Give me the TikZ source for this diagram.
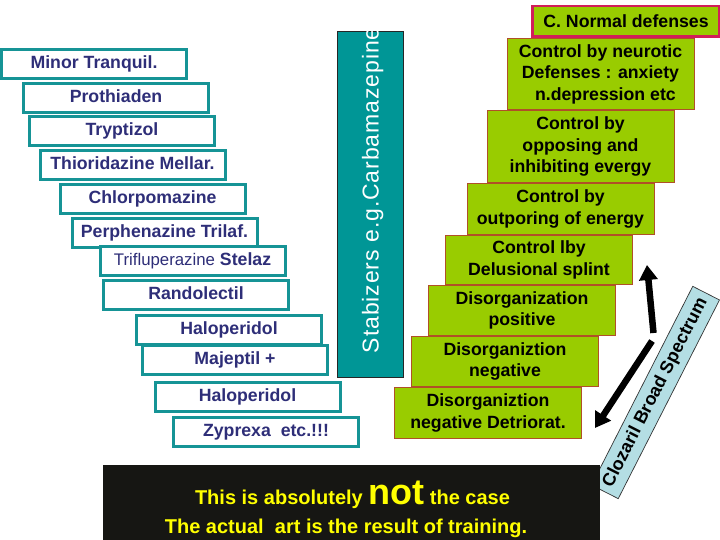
\documentclass[tikz,border=0pt]{standalone}
\usepackage{fontspec}
\setmainfont{Liberation Sans}
\usetikzlibrary{positioning}
\usetikzlibrary{arrows.meta}
\usetikzlibrary{calc}

\definecolor{drugteal}{RGB}{22,148,150}
\definecolor{drugink}{RGB}{46,46,120}
\definecolor{stabteal}{RGB}{0,150,150}
\definecolor{defgreen}{RGB}{153,204,0}
\definecolor{defedge}{RGB}{176,80,40}
\definecolor{normaledge}{RGB}{210,30,90}
\definecolor{notebg}{RGB}{22,22,19}
\definecolor{noteink}{RGB}{255,255,0}
\definecolor{clozblue}{RGB}{180,222,228}

\begin{document}
\begin{tikzpicture}[
    x=1pt, y=-1pt,
    drug/.style={rectangle, draw=drugteal, line width=3pt, fill=white, minimum width=185pt, minimum height=29pt, inner sep=0pt, text height=13pt, text depth=3.7pt, text=drugink, font=\fontsize{17.7}{21}\selectfont\bfseries},
    defense/.style={rectangle, draw=defedge, line width=1pt, fill=defgreen, minimum width=187pt, inner sep=0pt, align=center, font=\fontsize{17.7}{21.5}\selectfont\bfseries},
    stabbar/.style={rectangle, draw=black!85, line width=0.8pt, fill=stabteal, minimum width=66pt, minimum height=346pt},
    clozlabel/.style={rectangle, draw=black!80, line width=0.7pt, fill=clozblue, minimum width=223pt, minimum height=30pt, inner sep=0pt, font=\fontsize{18}{20}\selectfont\bfseries},
    notebox/.style={rectangle, fill=notebg, minimum width=497pt, minimum height=76pt, inner sep=0pt},
    notetext/.style={text=noteink, inner sep=0pt, font=\fontsize{20}{24}\selectfont\bfseries},
    spreadarrow/.style={line width=6.5pt, -{Triangle[length=15pt,width=18pt]}},
]
    \useasboundingbox (0,0) rectangle (720,540);
    \fill[white] (0,0) rectangle (720,540);

    % drug staircase
    \node[drug] (minor) at (94,64) {Minor Tranquil.};
    \node[drug] (proth) [below=2pt of minor, xshift=22pt] {Prothiaden};
    \node[drug] (trypt) [below=1pt of proth, xshift=6pt] {Tryptizol};
    \node[drug] (thior) [below=2pt of trypt, xshift=10.5pt] {Thioridazine Mellar.};
    \node[drug] (chlor) [below=2pt of thior, xshift=20pt] {Chlorpomazine};
    \node[drug] (perph) [below=2pt of chlor, xshift=12pt] {Perphenazine Trilaf.};
    \node[drug] (trifl) [below=-4pt of perph, xshift=28pt] {{\mdseries\fontsize{16.8}{20}\selectfont Trifluperazine} Stelaz};
    \node[drug] (rando) [below=2pt of trifl, xshift=3.5pt] {Randolectil};
    \node[drug] (haloa) [below=3pt of rando, xshift=33pt] {Haloperidol};
    \node[drug] (majep) [below=-2pt of haloa, xshift=6pt] {Majeptil +};
    \node[drug] (halob) [below=5pt of majep, xshift=12.5pt] {Haloperidol};
    \node[drug] (zypre) [below=3pt of halob, xshift=18.5pt] {Zyprexa\ \ etc.!!!};

    % stabilizer bar
    \node[stabbar] (stab) at (370,204) {};
    \begin{scope}
        \clip (stab.south west) rectangle (stab.north east);
        \node[rotate=90, anchor=base west, inner sep=0pt, text=white, font=\fontsize{23}{25}\selectfont\addfontfeature{LetterSpace=4}] (stabtext) at ($(stab.south)+(8.5,-24)$) {Stabizers e.g.Carbamazepine};
    \end{scope}

    % defense staircase
    \node[defense, draw=normaledge, line width=2.5pt, minimum height=30.5pt] (normal) at (626,21.5) {C. Normal defenses};
    \node[defense, minimum height=71pt] (neurotic) [below=0pt of normal, xshift=-25.5pt] {Control by neurotic\\Defenses : anxiety\\\ \ n.depression etc};
    \node[defense, minimum height=72pt] (opposing) [below=0pt of neurotic, xshift=-20pt] {Control by\\opposing and\\inhibiting evergy};
    \node[defense, minimum height=51pt] (outpour) [below=0pt of opposing, xshift=-20pt] {Control by\\outporing of energy};
    \node[defense, minimum height=49pt] (delus) [below=0pt of outpour, xshift=-21.5pt] {Control lby\\Delusional splint};
    \node[defense, minimum height=50pt] (dispos) [below=0pt of delus, xshift=-17pt] {Disorganization\\positive};
    \node[defense, minimum height=50pt] (disneg) [below=0pt of dispos, xshift=-17pt] {Disorganiztion\\negative};
    \node[defense, minimum height=51pt] (disdet) [below=0pt of disneg, xshift=-17pt] {Disorganiztion\\negative Detriorat.};

    % spectrum arrows
    \coordinate (uptail) at (653.5,333);
    \coordinate (uptip) at (647,265);
    \coordinate (downtail) at (652,341);
    \coordinate (downtip) at (595,428);
    \draw[spreadarrow] (uptail) -- (uptip);
    \draw[spreadarrow] (downtail) -- (downtip);

    \node[clozlabel, rotate=63] (cloz) at (655.5,392.5) {Clozaril Broad Spectrum};

    % bottom note
    \node[notebox] (notebar) at (351.5,503) {};
    \node[notetext, anchor=base] (notea) at (352.5,504) {This is absolutely {\fontsize{36}{36}\selectfont not} the case};
    \node[notetext, anchor=base] (noteb) at (346,533) {The actual\ \ art is the result of training.};
\end{tikzpicture}
\end{document}
